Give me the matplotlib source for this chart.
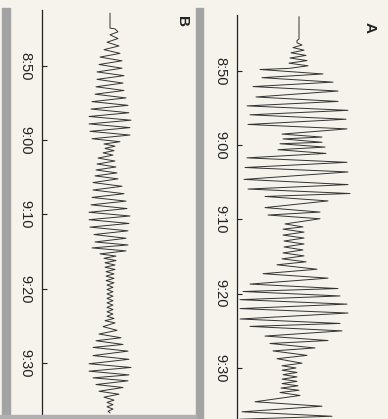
import numpy as np
import matplotlib.pyplot as plt
from matplotlib.patches import Rectangle

plt.rcParams['font.family'] = ['Liberation Sans', 'DejaVu Sans']

# --- DATOS ---
# tiempo en minutos despues de las 8:00, amplitud en unidades arbitrarias
ticks = [50, 60, 70, 80, 90]
tick_labels = ['8:50', '9:00', '9:10', '9:20', '9:30']

# registro A: instantes de los picos y amplitud de cada pico
a_t = [42.7, 45.7, 45.9, 46.2,
       46.5, 46.85, 47.2, 47.55, 47.9, 48.25, 48.6, 48.95, 49.3, 49.65,
       49.8, 50.4, 50.9, 51.5, 52.1, 52.7, 53.5, 54.1, 54.7, 55.3, 55.9, 56.5, 57.2, 57.8,
       58.5, 58.9, 59.15, 59.6, 59.8, 60.25, 60.6, 61.1,
       61.7, 62.3, 63.0, 63.6, 64.6, 65.3, 65.9, 66.5, 66.9, 67.5, 68.4, 69.0, 69.4, 69.9, 70.6, 71.0,
       71.3, 71.7, 72.1, 72.5, 72.9, 73.3, 73.7, 74.1, 74.5, 74.9, 75.3, 75.7,
       76.1, 76.7, 77.3, 77.9, 78.7, 79.3, 79.7, 80.3, 80.8, 81.4, 82.0, 82.6, 83.4, 84.0,
       84.4, 85.0, 85.7, 86.3, 86.7, 87.3, 87.7, 88.3, 88.75, 89.35,
       89.7, 90.0, 90.3, 90.6, 90.9, 91.2, 91.5, 91.8, 92.1, 92.4, 92.7, 93.0,
       93.3, 93.7, 94.55, 95.15, 95.9, 96.5, 96.9]
a_v = [1, 1, -1, -1,
       4, -5, 6, -7, 8, -8, 9, -9, 10, -9,
       -38, 25, -36, 35, -45, 40, -42, 40, -51, 50, -48, 48, -50, 49,
       -16, 24, -15, 24, -18, 27, -20, 28,
       -51, 49, -53, 50, -54, 50, -50, 52, -33, 30, -33, 22, -30, 22, -13, 5,
       -15, 6, -15, 6, -14, 6, -14, 5, -15, 6, -16, 8,
       -21, 19, -35, 30, -48, 40, -55, 42, -58, 49, -58, 50, -58, 42,
       -48, 44, -33, 30, -28, 17, -25, 9, -21, 4,
       -16, -2, -16, -1, -15, -1, -16, -1, -16, 0, -17, 1,
       -18, 2, -43, 24, -56, 34, -58]

# registro B
b_t = [42.9, 44.9, 45.0,
       45.4, 45.8, 46.3, 46.8, 47.3, 47.8, 48.3, 48.8, 49.3, 49.8, 50.3, 50.8, 51.3, 51.8,
       52.3, 52.8, 53.3, 53.8, 54.3, 54.8, 55.3, 55.8, 56.3, 56.8, 57.3, 57.8, 58.3, 58.8,
       59.3, 59.8, 60.2,
       60.5, 60.8, 61.1, 61.4, 61.7, 62.0,
       62.4, 62.8, 63.2, 63.6, 64.0, 64.4, 64.8, 65.2, 65.7, 66.2, 66.7, 67.2, 67.7, 68.2,
       68.7, 69.2,
       69.7, 70.2, 70.7, 71.2, 71.7, 72.2, 72.7, 73.2, 73.7, 74.1, 74.5, 74.9, 75.3, 75.6,
       75.9, 76.2, 76.5, 76.8, 77.1, 77.4, 77.7, 78.0, 78.3, 78.6, 78.9, 79.2, 79.5, 79.8,
       80.1, 80.4, 80.7, 81.0, 81.3, 81.6, 81.9, 82.2, 82.5, 82.8, 83.1, 83.4, 83.7, 84.0,
       84.3, 84.6,
       85.1, 85.6, 86.1, 86.6, 87.0, 87.5, 87.9, 88.4, 89.0, 89.5, 90.1, 90.6, 91.1, 91.6,
       92.0, 92.4, 92.9, 93.3, 93.8, 94.2, 94.6, 95.0,
       95.3, 95.6, 95.9, 96.2, 96.5, 96.7]
b_v = [0, 0, 5,
       8, 0, 8, -3, 9, -6, 10, -10, 12, -11, 12, -13, 14, -13,
       13, -14, 14, -15, 16, -18, 18, -19, 19, -21, 21, -21, 20, -20,
       20, -18, 10,
       -6, 5, -5, 4, -7, 3,
       -12, 5, -13, 6, -14, 7, -15, 8, -17, 12, -17, 14, -18, 16,
       -19, 17,
       -21, 20, -21, 19, -20, 18, -16, 16, -15, 18, -18, 16, -10, 6,
       -6, 6, -5, 5, -5, 5, -4, 4, -4, 4, -4, 4, -3, 3,
       -3, 3, -3, 3, -3, 3, -3, 3, -3, 3, -3, 3, -3, 4,
       -5, 5,
       -7, 7, -11, 11, -14, 13, -17, 18, -17, 19, -21, 21, -21, 19,
       -17, 18, -14, 13, -11, 9, -6, 4,
       -3, 3, -3, 3, -2, 0]

# --- GRAFICA ---
W, H = 388, 419
papel = '#f5f3ec'
tinta = '#333333'

fig = plt.figure(figsize=(W / 100, H / 100), dpi=100, facecolor=papel)

# sombras del pliegue de la pagina
for x0, ancho in [(2, 8), (196, 7)]:
    fig.patches.append(Rectangle((x0 / W, 0), ancho / W, 1 - 8 / H,
                                 transform=fig.transFigure, color='#a3a3a3', zorder=0))
fig.patches.append(Rectangle((0, 0), 196 / W, 4 / H, transform=fig.transFigure,
                             color='#b0b0b0', zorder=0))


def panel(rect, xlim, ylim, t, v):
    ax = fig.add_axes(rect)
    ax.patch.set_visible(False)
    ax.plot(v, t, color=tinta, lw=0.7)
    ax.set_xlim(*xlim)
    ax.set_ylim(*ylim)
    for s in ['top', 'right', 'bottom']:
        ax.spines[s].set_visible(False)
    ax.spines['left'].set_color('#222222')
    ax.spines['left'].set_linewidth(0.9)
    ax.set_xticks([])
    ax.set_yticks(ticks)
    ax.set_yticklabels(tick_labels, rotation=-90, va='center', fontsize=10.5,
                       color='#222222')
    ax.tick_params(axis='y', direction='in', length=3.5, width=0.8, pad=7,
                   color='#222222')
    return ax


panel([237 / W, 0, 133 / W, 404 / H], (-61, 72), (96.87, 42.46), a_t, a_v)
panel([42 / W, 0, 148 / W, 409 / H], (-68, 80), (97.54, 42.46), b_t, b_v)

fig.text(370 / W, 1 - 27 / H, 'A', rotation=-90, fontsize=11, fontweight='bold',
         ha='center', va='center', color='#222222')
fig.text(182 / W, 1 - 22 / H, 'B', rotation=-90, fontsize=11, fontweight='bold',
         ha='center', va='center', color='#222222')

fig.savefig('out.png', dpi=100, facecolor=papel)
